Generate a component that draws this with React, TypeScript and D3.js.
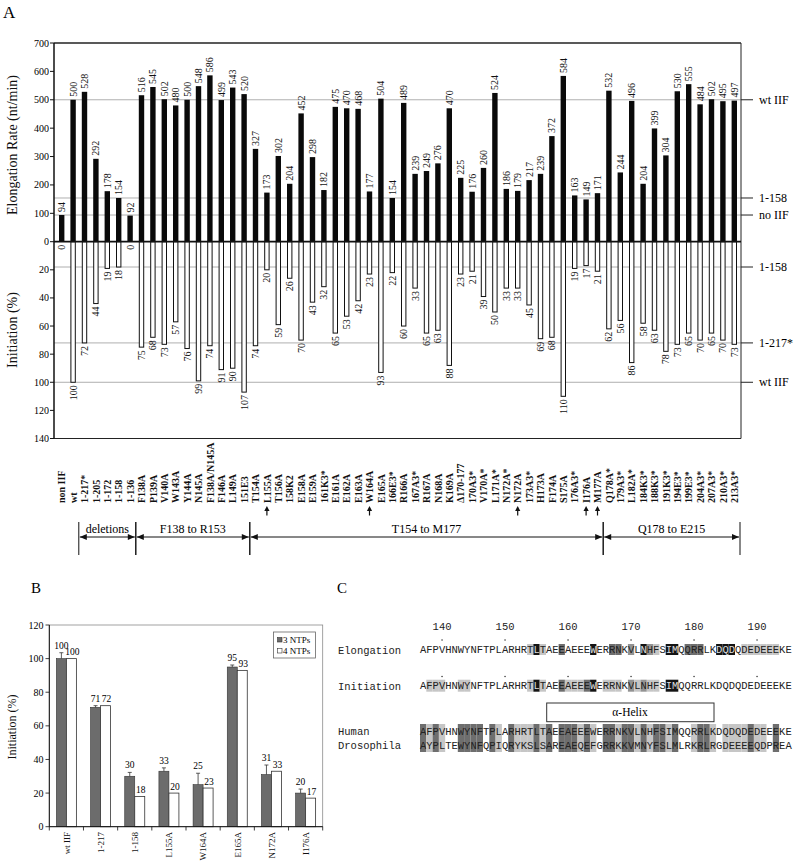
import React from "react";
import * as d3 from "d3";

// ---------- Panel A data ----------
const categories = ["non IIF","wt","1-217*","1-205","1-172","1-158","1-136","F138A","P139A","V140A","W143A","Y144A","N145A","F138A/N145A","F146A","L149A","151E3","T154A","L155A","T156A","158K2","E158A","E159A","161K3*","E161A","E162A","E163A","W164A","E165A","166E3*","R166A","167A3*","R167A","N168A","K169A","Δ170-177","170A3*","V170A*","L171A*","N172A*","N172A","173A3*","H173A","F174A","S175A","176A3*","I176A","M177A","Q178A*","179A3*","L182A*","184K3*","188K3*","191K3*","194E3*","199E3*","204A3*","207A3*","210A3*","213A3*"];
const elongation = [94,500,528,292,178,154,92,516,545,502,480,500,548,586,499,543,520,327,173,302,204,452,298,182,475,470,468,177,504,154,489,239,249,276,470,225,176,260,524,186,179,217,239,372,584,163,149,171,532,244,496,204,399,304,530,555,484,502,495,497];
const initiation = [0,100,72,44,19,18,0,75,68,73,57,76,99,74,91,90,107,74,20,59,26,70,43,32,65,53,42,23,93,22,60,33,65,63,88,23,21,39,50,33,33,45,69,68,110,19,17,21,62,56,86,58,63,78,73,65,70,65,70,73];
const elongTicks = [0,100,200,300,400,500,600,700];
const initTicks = [20,40,60,80,100,120,140];
const topRefValues = [500,154,94];
const topRefLabels = ["wt IIF","1-158","no IIF"];
const botRefValues = [18,72,100];
const botRefLabels = ["1-158","1-217*","wt IIF"];
const arrowMutants = ["L155A","W164A","N172A","I176A","M177A"];
const regionLabels = ["deletions","F138 to R153","T154 to M177","Q178 to E215"];
const regionFrom = ["1-217*","F138A","T154A","Q178A*"];
const regionTo = ["1-136","151E3","M177A","213A3*"];

// ---------- Panel B data ----------
const bCategories = ["wt IIF","1-217","1-158","L155A","W164A","E165A","N172A","I176A"];
const ntp3 = [100,71,30,33,25,95,31,20];
const ntp3Err = [3.5,1,2.3,2,6.8,1.2,5.7,2.4];
const ntp4 = [100,72,18,20,23,93,33,17];
const bTicks = [0,20,40,60,80,100,120];
const bSeriesNames = ["3 NTPs","4 NTPs"];

// ---------- Panel C data ----------
const seqStart = 137;
const residueTicks = [140,150,160,170,180,190];
const humanSeq = "AFPVHNWYNFTPLARHRTLTAEEAEEEWERRNKVLNHFSIMQQRRLKDQDQDEDEEEKE";
const drosSeq = "AYPLTEWYNFQPIQRYKSLSAREAEQEFGRRKKVMNYFSLMLRKRLRGDEEEEQDPREA";
const elongShade = ".................lkl..d....k..dd.m.kml.kk.ddd..kkk.llllll..";
const initShade = ".lll..ll.........lkl..dllldk.lll.mlmll.kk.................";
const alignShade = "dldl..dddd.dl.dllldld.dddldl.ddlddldlddld..lddl.lllldll.d..";

const shadeColor: Record<string, string> = { l: "#c6c6c6", m: "#939393", d: "#6e6e6e", k: "#141414" };

const serif = "'Liberation Serif', 'Times New Roman', serif";
const mono = "'Liberation Mono', 'Courier New', monospace";

function RotText({ x, y, text, anchor, size, weight }: any) {
  return (
    <text transform={`translate(${x},${y}) rotate(-90)`} textAnchor={anchor} fontSize={size} fontFamily={serif} fontWeight={weight || "normal"} fill="#111">
      {text}
    </text>
  );
}

function PanelA() {
  const left = 54, right = 741, top = 43;
  const x = d3.scaleBand<string>().domain(categories).range([56, 740]).padding(0);
  const bw = x.bandwidth();
  const yTop = d3.scaleLinear().domain([0, 700]).range([241.7, 43]);
  const yBot = d3.scaleLinear().domain([0, 140]).range([241.7, 438.5]);
  const cx = (c: string) => (x(c) as number) + bw / 2;
  const barW = 5.4;
  const lineY = 537;
  return (
    <g>
      <text x={3} y={18} fontSize={17} fontFamily={serif}>A</text>
      {/* reference lines */}
      {topRefValues.map((v, i) => (
        <g key={"tr" + i}>
          <line x1={left} x2={right} y1={yTop(v)} y2={yTop(v)} stroke="#9a9a9a" strokeWidth={0.8} />
          <line x1={right} x2={753} y1={yTop(v)} y2={yTop(v)} stroke="#222" strokeWidth={1} />
          <text x={759} y={yTop(v) + 4} fontSize={12} fontFamily={serif}>{topRefLabels[i]}</text>
        </g>
      ))}
      {botRefValues.map((v, i) => (
        <g key={"br" + i}>
          <line x1={left} x2={right} y1={yBot(v)} y2={yBot(v)} stroke="#9a9a9a" strokeWidth={0.8} />
          <line x1={right} x2={753} y1={yBot(v)} y2={yBot(v)} stroke="#222" strokeWidth={1} />
          <text x={759} y={yBot(v) + 4} fontSize={12} fontFamily={serif}>{botRefLabels[i]}</text>
        </g>
      ))}
      {/* bars */}
      {categories.map((c, i) => (
        <g key={"b" + i}>
          <rect x={cx(c) - barW / 2} y={yTop(elongation[i])} width={barW} height={yTop(0) - yTop(elongation[i])} fill="#0a0a0a" />
          {initiation[i] > 0 && (
            <rect x={cx(c) - barW / 2 + 0.5} y={yBot(0)} width={barW - 1} height={yBot(initiation[i]) - yBot(0)} fill="#fff" stroke="#111" strokeWidth={1} />
          )}
          <RotText x={cx(c) + 3.5} y={yTop(elongation[i]) - 3} text={String(elongation[i])} anchor="start" size={10} />
          <RotText x={cx(c) + 3.5} y={yBot(initiation[i]) + 3} text={String(initiation[i])} anchor="end" size={10} />
          <RotText x={cx(c) + 3.6} y={503} text={c} anchor="start" size={10} weight="bold" />
        </g>
      ))}
      {/* frame */}
      <line x1={left} x2={right} y1={top} y2={top} stroke="#222" strokeWidth={1.5} />
      <line x1={right} x2={right} y1={top} y2={438.5} stroke="#222" strokeWidth={1} />
      <line x1={left} x2={right} y1={438.5} y2={438.5} stroke="#222" strokeWidth={1} />
      <line x1={left} x2={left} y1={top} y2={438.5} stroke="#111" strokeWidth={1.5} />
      <line x1={left} x2={right} y1={yTop(0)} y2={yTop(0)} stroke="#111" strokeWidth={1.8} />
      {/* y ticks */}
      {elongTicks.map((t) => (
        <g key={"et" + t}>
          <line x1={left - 4} x2={left} y1={yTop(t)} y2={yTop(t)} stroke="#111" />
          <text x={49} y={yTop(t) + 3.5} textAnchor="end" fontSize={10} fontFamily={serif}>{t}</text>
        </g>
      ))}
      {initTicks.map((t) => (
        <g key={"it" + t}>
          <line x1={left - 4} x2={left} y1={yBot(t)} y2={yBot(t)} stroke="#111" />
          <text x={49} y={yBot(t) + 3.5} textAnchor="end" fontSize={10} fontFamily={serif}>{t}</text>
        </g>
      ))}
      <RotText x={17} y={145} text="Elongation Rate (nt/min)" anchor="middle" size={14} />
      <RotText x={17} y={330} text="Initiation (%)" anchor="middle" size={14} />
      {/* arrows under mutants */}
      {arrowMutants.map((m) => (
        <g key={"ar" + m}>
          <line x1={cx(m)} x2={cx(m)} y1={510} y2={515.5} stroke="#111" strokeWidth={1.2} />
          <polygon points={`${cx(m)},506 ${cx(m) - 2.6},511 ${cx(m) + 2.6},511`} fill="#111" />
        </g>
      ))}
      {/* region brackets */}
      {regionLabels.map((lab, i) => {
        const x0 = x(regionFrom[i]) as number;
        const x1 = (x(regionTo[i]) as number) + bw;
        return (
          <g key={"rg" + i}>
            <line x1={x0} x2={x0} y1={522} y2={555} stroke="#111" strokeWidth={1} />
            <line x1={x1} x2={x1} y1={522} y2={555} stroke="#111" strokeWidth={1} />
            <line x1={x0 + 1} x2={x1 - 1} y1={lineY} y2={lineY} stroke="#111" strokeWidth={1} />
            <polygon points={`${x0 + 1},${lineY} ${x0 + 8},${lineY - 3} ${x0 + 8},${lineY + 3}`} fill="#111" />
            <polygon points={`${x1 - 1},${lineY} ${x1 - 8},${lineY - 3} ${x1 - 8},${lineY + 3}`} fill="#111" />
            <text x={(x0 + x1) / 2} y={533} textAnchor="middle" fontSize={12} fontFamily={serif}>{lab}</text>
          </g>
        );
      })}
    </g>
  );
}

function PanelB() {
  const x = d3.scaleBand<string>().domain(bCategories).range([49.3, 322.7]).padding(0);
  const bw = x.bandwidth();
  const y = d3.scaleLinear().domain([0, 120]).range([826.7, 625]);
  const w = 10;
  return (
    <g>
      <text x={31} y={593} fontSize={15} fontFamily={serif}>B</text>
      <rect x={49.3} y={625} width={273.4} height={201.7} fill="none" stroke="#8a8a8a" strokeWidth={0.8} />
      {bCategories.map((c, i) => {
        const cx = (x(c) as number) + bw / 2;
        const e = ntp3[i] + ntp3Err[i];
        return (
          <g key={"bb" + i}>
            <rect x={cx - w} y={y(ntp3[i])} width={w} height={y(0) - y(ntp3[i])} fill="#6c6c6c" stroke="#333" strokeWidth={0.6} />
            <rect x={cx} y={y(ntp4[i])} width={w} height={y(0) - y(ntp4[i])} fill="#fff" stroke="#333" strokeWidth={0.8} />
            <line x1={cx - w / 2} x2={cx - w / 2} y1={y(ntp3[i])} y2={y(e)} stroke="#333" strokeWidth={0.8} />
            <line x1={cx - w / 2 - 2} x2={cx - w / 2 + 2} y1={y(e)} y2={y(e)} stroke="#333" strokeWidth={0.8} />
            <text x={cx - w / 2} y={y(e) - 4} textAnchor="middle" fontSize={9.5} fontFamily={serif}>{ntp3[i]}</text>
            <text x={cx + w / 2 + 1} y={y(ntp4[i]) - 3.5} textAnchor="middle" fontSize={9.5} fontFamily={serif}>{ntp4[i]}</text>
            <RotText x={cx + 3.3} y={832} text={c} anchor="end" size={9} />
          </g>
        );
      })}
      {bCategories.concat(["end"]).map((c, i) => {
        const xx = 49.3 + i * bw;
        return <line key={"xt" + i} x1={xx} x2={xx} y1={826.7} y2={830.5} stroke="#111" strokeWidth={0.8} />;
      })}
      <line x1={49.3} x2={49.3} y1={625} y2={826.7} stroke="#111" strokeWidth={1} />
      <line x1={49.3} x2={322.7} y1={826.7} y2={826.7} stroke="#111" strokeWidth={1} />
      {bTicks.map((t) => (
        <g key={"bt" + t}>
          <line x1={45.5} x2={49.3} y1={y(t)} y2={y(t)} stroke="#111" strokeWidth={0.8} />
          <text x={43.5} y={y(t) + 3.5} textAnchor="end" fontSize={10} fontFamily={serif}>{t}</text>
        </g>
      ))}
      <RotText x={16} y={727} text="Initiation (%)" anchor="middle" size={12} />
      {/* legend */}
      <rect x={273.5} y={632} width={42} height={26} fill="#fff" stroke="#666" strokeWidth={0.8} />
      <rect x={277.5} y={637.5} width={4.5} height={4.5} fill="#6c6c6c" stroke="#333" strokeWidth={0.6} />
      <text x={283} y={642.5} fontSize={9} fontFamily={serif}>{bSeriesNames[0]}</text>
      <rect x={277.5} y={648.5} width={4.5} height={4.5} fill="#fff" stroke="#333" strokeWidth={0.6} />
      <text x={283} y={653.5} fontSize={9} fontFamily={serif}>{bSeriesNames[1]}</text>
    </g>
  );
}

function SeqRow({ seq, shade, y, h }: any) {
  const cw = 6.3;
  const x0 = 420;
  return (
    <g>
      {seq.split("").map((ch: string, i: number) => {
        const s = shade[i];
        const col = shadeColor[s];
        return (
          <g key={i}>
            {col && <rect x={x0 + i * cw} y={y - h / 2} width={cw} height={h} fill={col} />}
            <text x={x0 + i * cw + cw / 2} y={y + 3.7} textAnchor="middle" fontSize={10.5} fontFamily={mono} fill={s === "k" ? "#ddd" : "#222"}>{ch}</text>
          </g>
        );
      })}
    </g>
  );
}

function PanelC() {
  const cw = 6.3;
  const xr = d3.scaleLinear().domain([seqStart, seqStart + 1]).range([420 + cw / 2, 420 + cw * 1.5]);
  return (
    <g>
      <text x={337} y={593} fontSize={15} fontFamily={serif}>C</text>
      {residueTicks.map((r) => (
        <g key={"rt" + r}>
          <text x={xr(r)} y={630} textAnchor="middle" fontSize={10.5} fontFamily={mono} fill="#222">{r}</text>
          <circle cx={xr(r)} cy={640} r={0.7} fill="#222" />
          <circle cx={xr(r)} cy={676.5} r={0.7} fill="#222" />
        </g>
      ))}
      <text x={338} y={653.5} fontSize={10.5} fontFamily={mono} fill="#222">Elongation</text>
      <SeqRow seq={humanSeq} shade={elongShade} y={649.5} h={11} />
      <text x={338} y={689.5} fontSize={10.5} fontFamily={mono} fill="#222">Initiation</text>
      <SeqRow seq={humanSeq} shade={initShade} y={685.7} h={12} />
      <rect x={546.7} y={703} width={167.3} height={18.7} fill="#fff" stroke="#333" strokeWidth={1} />
      <text x={630} y={716} textAnchor="middle" fontSize={11.5} fontFamily={serif}>α-Helix</text>
      <text x={338} y={735} fontSize={10.5} fontFamily={mono} fill="#222">Human</text>
      <text x={338} y={749} fontSize={10.5} fontFamily={mono} fill="#222">Drosophila</text>
      <SeqRow seq={humanSeq} shade={alignShade} y={731} h={14} />
      <SeqRow seq={drosSeq} shade={alignShade} y={745} h={14} />
    </g>
  );
}

export default function App() {
  return (
    <svg width={800} height={866} style={{ position: "absolute", left: 0, top: 0, background: "#fff" }}>
      <rect x={0} y={0} width={800} height={866} fill="#fff" />
      <PanelA />
      <PanelB />
      <PanelC />
    </svg>
  );
}
